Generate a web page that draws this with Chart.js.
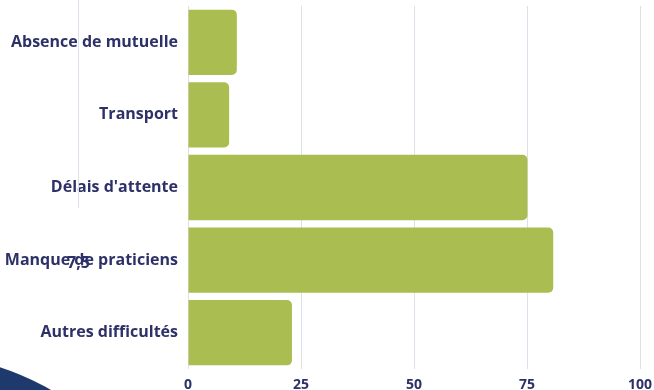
<!DOCTYPE html>
<html>
<head>
<meta charset="utf-8">
<script src="https://cdn.jsdelivr.net/npm/chart.js@4"></script>
<style>
  html, body { margin: 0; padding: 0; background: #ffffff; overflow: hidden; }
  #wrap { position: relative; width: 654px; height: 390px; }
  #c { position: absolute; left: 0; top: 0; }
  .deco-line { position: absolute; left: 78px; top: 0; width: 1px; height: 208px; background: #dbe1ea; z-index: 2; }
  .deco-text { position: absolute; left: 67px; top: 251px; font: 700 16px "Open Sans", sans-serif; color: #2e3168; z-index: 3; }
  .deco-blob { position: absolute; left: -369px; top: 353px; width: 562px; height: 562px; border-radius: 50%; background: #1e3a6c; z-index: 2; }
</style>
</head>
<body>
<div id="wrap">
  <canvas id="c" width="654" height="390"></canvas>
  <div class="deco-line"></div>
  <div class="deco-text">7,5</div>
  <div class="deco-blob"></div>
</div>
<script>
const categories = ["Absence de mutuelle", "Transport", "Délais d'attente", "Manque de praticiens", "Autres difficultés"];
const values = [10.8, 9.1, 75.1, 80.8, 23.0];
const xTicks = [0, 25, 50, 75, 100];

const navy = "#2e3168";
const barColor = "#aabd51";

new Chart(document.getElementById("c"), {
  type: "bar",
  data: {
    labels: categories,
    datasets: [{
      data: values,
      backgroundColor: barColor,
      borderRadius: 5,
      borderSkipped: "start",
      categoryPercentage: 1,
      barPercentage: 0.9
    }]
  },
  options: {
    indexAxis: "y",
    responsive: false,
    animation: false,
    devicePixelRatio: 1,
    layout: { padding: { top: 6, right: 14, left: 0, bottom: 0 } },
    plugins: { legend: { display: false }, tooltip: { enabled: false } },
    scales: {
      x: {
        min: 0, max: 100,
        afterBuildTicks: (s) => { s.ticks = xTicks.map(v => ({ value: v })); },
        afterFit: (s) => { s.height = 21; s.paddingLeft = 0; s.paddingRight = 0; },
        grid: { color: "#dedfe8", lineWidth: 1, drawTicks: false },
        border: { display: false },
        ticks: { color: navy, padding: 8, font: { family: "Open Sans", weight: "bold", size: 14 } }
      },
      y: {
        afterFit: (s) => { s.width = 188; s.paddingTop = 0; s.paddingBottom = 0; },
        grid: { display: false, drawTicks: false },
        border: { display: false },
        ticks: { color: navy, padding: 10, font: { family: "Open Sans", weight: "bold", size: 16 } }
      }
    }
  }
});
</script>
</body>
</html>
